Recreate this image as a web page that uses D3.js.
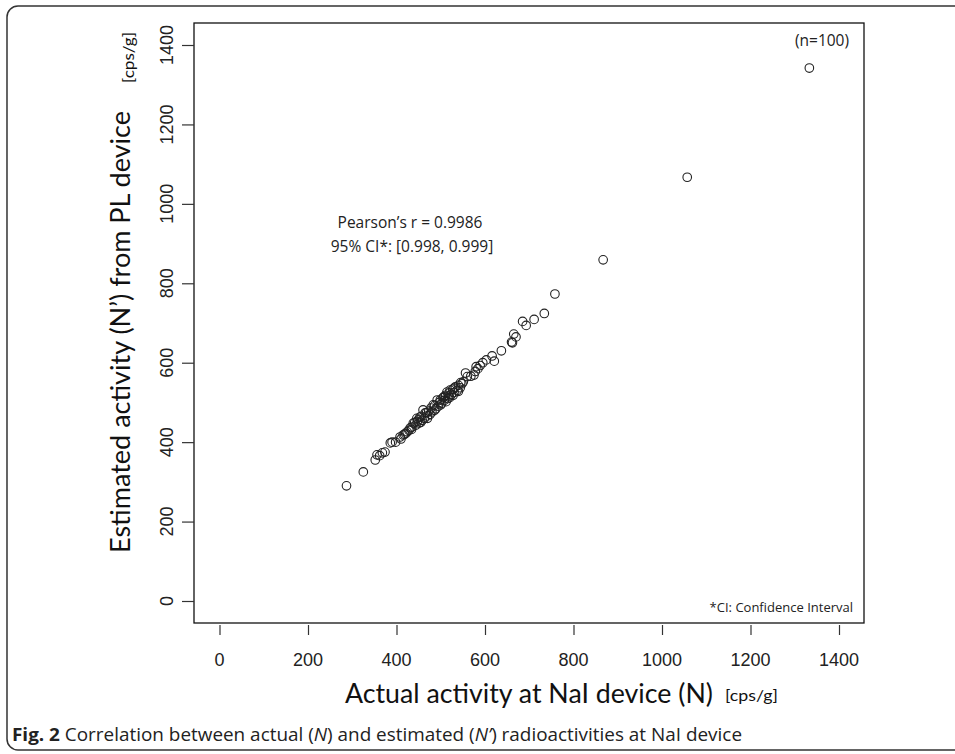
<!DOCTYPE html>
<html>
<head>
<meta charset="utf-8">
<script src="https://cdn.jsdelivr.net/npm/d3@7"></script>
<style>
  body { margin: 0; background: #fff; }
</style>
</head>
<body>
<div id="main"></div>
<script>
// actual activity at NaI device (N), cps/g
const actual = [1333, 1057, 867, 758, 734, 711, 693, 685, 670, 665,
    660, 662, 637, 621, 616, 603, 589, 584, 578, 575,
    568, 556, 551, 548, 544, 540, 537, 533, 530, 527,
    524, 521, 518, 516, 514, 511, 508, 505, 502, 499,
    497, 494, 492, 489, 486, 483, 480, 478, 476, 473,
    470, 468, 465, 463, 460, 458, 456, 453, 451, 449,
    447, 444, 441, 438, 435, 431, 428, 424, 421, 418,
    415, 410, 408, 398, 390, 386, 374, 368, 362, 356,
    352, 325, 287, 540, 528, 512, 500, 545, 560, 530,
    519, 507, 486, 470, 455, 446, 434, 520, 580, 595];
// estimated activity from PL device (N'), cps/g
const estimated = [1342, 1067, 859, 773, 724, 709, 694, 704, 665, 672,
    652, 650, 630, 604, 617, 607, 593, 585, 578, 569,
    566, 574, 552, 547, 537, 543, 530, 539, 525, 533,
    520, 531, 516, 510, 526, 518, 505, 512, 498, 506,
    500, 490, 506, 484, 492, 494, 476, 486, 470, 478,
    466, 474, 474, 460, 481, 455, 465, 463, 448, 456,
    452, 443, 449, 448, 438, 436, 430, 426, 422, 420,
    418, 408, 413, 400, 400, 398, 375, 373, 366, 368,
    355, 325, 290, 528, 518, 502, 494, 550, 565, 536,
    524, 514, 480, 460, 450, 460, 432, 512, 590, 600];
const ticks = [0, 200, 400, 600, 800, 1000, 1200, 1400];

const W = 955, H = 754;
const svg = d3.select("#main").append("svg").attr("width", W).attr("height", H);

const x = d3.scaleLinear().domain([0, 1400]).range([219.5, 839]);
const y = d3.scaleLinear().domain([0, 1400]).range([601, 45]);

// outer frame
svg.append("rect")
    .attr("x", 7).attr("y", 6).attr("width", 980).attr("height", 744)
    .attr("rx", 11).attr("fill", "none").attr("stroke", "#333").attr("stroke-width", 1.5);

// plot box
svg.append("rect")
    .attr("x", 194).attr("y", 23).attr("width", 670).attr("height", 600)
    .attr("fill", "none").attr("stroke", "#111").attr("stroke-width", 1.3);

const tickFont = "'Liberation Sans', Arial, sans-serif";

let xAxis = svg.append("g")
    .attr("transform", "translate(0,625)")
    .call(d3.axisBottom(x).tickValues(ticks).tickSize(10).tickFormat(""));
xAxis.select(".domain").remove();
xAxis.selectAll("line").attr("stroke", "#333").attr("stroke-width", 1.2);

svg.append("g").selectAll("text").data(ticks).join("text")
    .attr("x", (d) => x(d)).attr("y", 666)
    .attr("text-anchor", "middle")
    .style("font-family", tickFont).style("font-size", "18px").attr("fill", "#222")
    .text((d) => d);

let yAxis = svg.append("g")
    .attr("transform", "translate(194,0)")
    .call(d3.axisLeft(y).tickValues(ticks).tickSize(12).tickFormat(""));
yAxis.select(".domain").remove();
yAxis.selectAll("line").attr("stroke", "#333").attr("stroke-width", 1.2);

svg.append("g").selectAll("text").data(ticks).join("text")
    .attr("transform", (d) => `translate(173,${y(d)}) rotate(-90)`)
    .attr("text-anchor", "middle")
    .style("font-family", tickFont).style("font-size", "18px").attr("fill", "#222")
    .text((d) => d);

// points
svg.append("g").selectAll("circle").data(actual).join("circle")
    .attr("cx", (d) => x(d))
    .attr("cy", (d, i) => y(estimated[i]))
    .attr("r", 4.3)
    .attr("fill", "none").attr("stroke", "#222").attr("stroke-width", 1.1);

const titleFont = "Lato, 'Open Sans', sans-serif";

// axis titles
svg.append("text")
    .attr("x", 345).attr("y", 703)
    .attr("textLength", 368).attr("lengthAdjust", "spacingAndGlyphs")
    .style("font-family", titleFont).style("font-size", "26px").attr("fill", "#111")
    .text("Actual activity at NaI device (N)");
svg.append("text")
    .attr("x", 725).attr("y", 701)
    .attr("textLength", 53).attr("lengthAdjust", "spacingAndGlyphs")
    .style("font-family", titleFont).style("font-size", "15px").attr("fill", "#111")
    .text("[cps/g]");

svg.append("text")
    .attr("transform", "translate(130,553) rotate(-90)")
    .attr("textLength", 442).attr("lengthAdjust", "spacingAndGlyphs")
    .style("font-family", titleFont).style("font-size", "26px").attr("fill", "#111")
    .text("Estimated activity (N’) from PL device");
svg.append("text")
    .attr("transform", "translate(134,83) rotate(-90)")
    .attr("textLength", 51).attr("lengthAdjust", "spacingAndGlyphs")
    .style("font-family", titleFont).style("font-size", "15px").attr("fill", "#111")
    .text("[cps/g]");

// annotations
const noteFont = "'Open Sans', sans-serif";
svg.append("text")
    .attr("x", 410).attr("y", 228).attr("text-anchor", "middle")
    .style("font-family", noteFont).style("font-size", "15.5px").attr("fill", "#222")
    .text("Pearson’s r = 0.9986");
svg.append("text")
    .attr("x", 412).attr("y", 252).attr("text-anchor", "middle")
    .style("font-family", noteFont).style("font-size", "15.5px").attr("fill", "#222")
    .text("95% CI*: [0.998, 0.999]");
svg.append("text")
    .attr("x", 822).attr("y", 46).attr("text-anchor", "middle")
    .style("font-family", noteFont).style("font-size", "15.5px").attr("fill", "#222")
    .text("(n=100)");
svg.append("text")
    .attr("x", 853).attr("y", 612).attr("text-anchor", "end")
    .style("font-family", noteFont).style("font-size", "13px").attr("fill", "#222")
    .text("*CI: Confidence Interval");

// caption
const cap = svg.append("text")
    .attr("x", 12).attr("y", 741)
    .attr("textLength", 730).attr("lengthAdjust", "spacingAndGlyphs")
    .style("font-family", "'Liberation Sans Narrow', 'Open Sans', sans-serif")
    .style("font-size", "18px").attr("fill", "#222");
cap.append("tspan").style("font-weight", "bold").text("Fig. 2");
cap.append("tspan").text(" Correlation between actual (");
cap.append("tspan").style("font-style", "italic").text("N");
cap.append("tspan").text(") and estimated (");
cap.append("tspan").style("font-style", "italic").text("N’");
cap.append("tspan").text(") radioactivities at NaI device");
</script>
</body>
</html>
